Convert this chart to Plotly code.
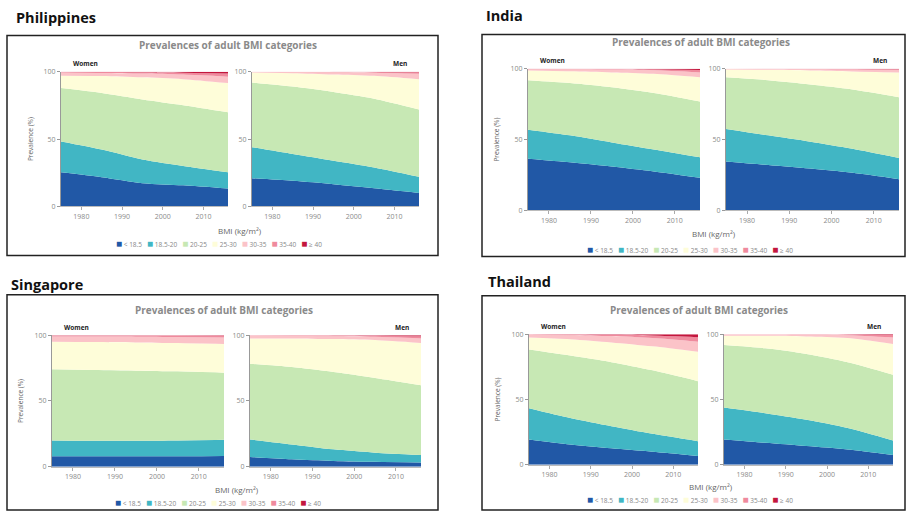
import plotly.graph_objects as go

# ---------------- data ----------------
years = [1975, 1985, 1995, 2005, 2016]
bmi_categories = ["< 18.5", "18.5-20", "20-25", "25-30", "30-35", "35-40", "≥ 40"]
bmi_colors = ["#2158a6", "#41b6c4", "#c7e8b4", "#fefdd9", "#fbc3c8", "#ef8a9d", "#c3163d"]
year_ticks = [1980, 1990, 2000, 2010]
prev_ticks = [0, 50, 100]

# prevalence (%) per BMI category (rows) and year (columns)
phl_women = [[25.3, 21.7, 17.3, 15.7, 13.3], [22.9, 20.5, 17.6, 14.4, 12], [39.8, 42.1, 44.6, 45.1, 44.6],
             [9.1, 12.6, 16.4, 19.3, 21.7], [2.4, 2.3, 2.9, 3.5, 4.8], [0.4, 0.6, 0.8, 1.3, 2.4],
             [0.1, 0.2, 0.4, 0.7, 1.2]]
phl_men = [[21, 19, 16.5, 13.5, 10], [23, 20, 17.5, 15.5, 12], [48, 50, 51, 51, 50],
           [7.5, 10, 13, 17, 22.5], [0.4, 0.85, 1.6, 2.3, 4], [0.08, 0.12, 0.3, 0.5, 1.1],
           [0.02, 0.03, 0.1, 0.2, 0.4]]
ind_women = [[36.5, 34, 31, 27.5, 23], [20.5, 19, 17, 15.5, 14.5], [35, 37, 39, 40, 39.5],
             [6.8, 8.3, 10.5, 13.5, 17], [1, 1.4, 2, 2.5, 3.5], [0.17, 0.25, 0.4, 0.7, 1.7],
             [0.03, 0.05, 0.1, 0.3, 0.8]]
ind_men = [[34.5, 32, 29.5, 26.5, 22], [23, 21, 19, 17, 15], [36.5, 39, 40.5, 42, 43],
           [5.5, 7.3, 9.8, 12.7, 17.5], [0.45, 0.6, 1, 1.4, 1.8], [0.05, 0.08, 0.15, 0.3, 0.5],
           [0, 0.02, 0.05, 0.1, 0.2]]
sgp_women = [[8, 8, 8, 8, 8.2], [12, 11.8, 11.8, 12, 12.3], [54, 53.7, 53.2, 52.5, 51],
             [21, 21.3, 21.5, 21.5, 21.8], [4, 4.1, 4.3, 4.6, 5], [0.8, 0.9, 0.95, 1.1, 1.3],
             [0.2, 0.2, 0.25, 0.3, 0.4]]
sgp_men = [[7.5, 5.75, 4.5, 3.75, 3.25], [13.25, 11.25, 8.75, 7, 5.75], [57.5, 58.75, 58.75, 56.75, 53],
           [19.25, 21.75, 25, 28.75, 32], [2, 1.9, 2.2, 2.55, 3.5], [0.4, 0.45, 0.6, 0.8, 1.7],
           [0.1, 0.15, 0.2, 0.4, 0.8]]
tha_women = [[19.4, 15.6, 12.6, 10, 6.8], [23.9, 20.2, 16.9, 13.7, 11.3], [44.9, 47.8, 49.1, 48.6, 45.9],
             [9.3, 12.6, 15.1, 18.4, 22.6], [2, 3, 4.8, 6.3, 7.6], [0.4, 0.6, 1, 2, 3.5],
             [0.1, 0.2, 0.5, 1, 2.3]]
tha_men = [[19.4, 16.9, 14.4, 11.8, 7.6], [24.4, 22.6, 20.1, 16.4, 11], [47.9, 49.7, 50.4, 50.4, 50.4],
           [7, 9.5, 13.3, 18.4, 23.4], [1.1, 1, 1.3, 2.2, 5.1], [0.17, 0.25, 0.4, 0.6, 1.8],
           [0.03, 0.05, 0.1, 0.2, 0.7]]

country_names = ["Philippines", "India", "Singapore", "Thailand"]
women_data = [phl_women, ind_women, sgp_women, tha_women]
men_data = [phl_men, ind_men, sgp_men, tha_men]

# ---------------- layout (pixel positions in the 908x516 page) ----------------
FW, FH = 908, 516
panel_geo = [
    dict(box=(7, 31, 438, 255), name_xy=(14, 13), title_xy=(228, 41), wx=(61, 228), mx=(252, 419),
         py=(68, 205), xtitle_y=229, legend_xy=(219, 242), ytitle_x=30),
    dict(box=(482, 30, 905, 256), name_xy=(484, 11), title_xy=(701, 38), wx=(528, 700), mx=(726, 899),
         py=(65, 209), xtitle_y=233, legend_xy=(690, 248), ytitle_x=497),
    dict(box=(7, 295, 438, 514), name_xy=(9, 284), title_xy=(224, 310), wx=(52, 224), mx=(250, 421),
         py=(336, 470), xtitle_y=493, legend_xy=(218, 506), ytitle_x=21),
    dict(box=(482, 296, 905, 514), name_xy=(486, 281), title_xy=(699, 310), wx=(529, 698), mx=(724, 893),
         py=(335, 468), xtitle_y=490, legend_xy=(690, 503), ytitle_x=497),
]


def px(x):
    return x / FW


def py_(y):
    return 1 - y / FH


FONT = "Open Sans"
TICK_FONT = dict(family=FONT, size=7, color="#8a8a8a")
NB = "\u00a0"

legend_text = (NB * 3).join(
    f"<span style='color:{col};font-size:10px'>■</span>{NB}{cat}"
    for cat, col in zip(bmi_categories, bmi_colors)
)

fig = go.Figure()
layout = dict(width=FW, height=FH, margin=dict(l=0, r=0, t=0, b=0),
              paper_bgcolor="white", plot_bgcolor="white", hovermode=False,
              showlegend=False, font=dict(family=FONT))
shapes, annotations = [], []

axis_n = 0
for p, (name, geo) in enumerate(zip(country_names, panel_geo)):
    x0, y0, x1, y1 = geo["box"]
    shapes.append(dict(type="rect", xref="paper", yref="paper", x0=px(x0), x1=px(x1),
                       y0=py_(y1), y1=py_(y0), line=dict(color="#222", width=1.5)))
    annotations.append(dict(text=f"<b>{name}</b>", xref="paper", yref="paper",
                            x=px(geo["name_xy"][0]), y=py_(geo["name_xy"][1]),
                            xanchor="left", yanchor="middle", showarrow=False,
                            font=dict(family=FONT, size=14.5, color="#111")))
    annotations.append(dict(text="<b>Prevalences of adult BMI categories</b>", xref="paper", yref="paper",
                            x=px(geo["title_xy"][0]), y=py_(geo["title_xy"][1]),
                            xanchor="center", yanchor="middle", showarrow=False,
                            font=dict(family=FONT, size=10, color="#8a8a8a")))
    annotations.append(dict(text="BMI (kg/m²)", xref="paper", yref="paper",
                            x=px((geo["wx"][0] + geo["mx"][1]) / 2), y=py_(geo["xtitle_y"]),
                            xanchor="center", yanchor="middle", showarrow=False,
                            font=dict(family=FONT, size=8, color="#666")))
    annotations.append(dict(text="Prevalence (%)", xref="paper", yref="paper", textangle=-90,
                            x=px(geo["ytitle_x"]), y=py_((geo["py"][0] + geo["py"][1]) / 2),
                            xanchor="center", yanchor="middle", showarrow=False,
                            font=dict(family=FONT, size=6.5, color="#666")))
    annotations.append(dict(text=legend_text, xref="paper", yref="paper",
                            x=px(geo["legend_xy"][0]), y=py_(geo["legend_xy"][1]),
                            xanchor="center", yanchor="middle", showarrow=False,
                            font=dict(family=FONT, size=6.5, color="#888")))

    for s, (sex_label, data, xr) in enumerate([("Women", women_data[p], geo["wx"]),
                                                ("Men", men_data[p], geo["mx"])]):
        axis_n += 1
        xa = "x" if axis_n == 1 else f"x{axis_n}"
        ya = "y" if axis_n == 1 else f"y{axis_n}"
        xkey = "xaxis" if axis_n == 1 else f"xaxis{axis_n}"
        ykey = "yaxis" if axis_n == 1 else f"yaxis{axis_n}"
        layout[xkey] = dict(domain=[px(xr[0]), px(xr[1])], anchor=ya, range=[1975, 2016],
                            tickvals=year_ticks, ticks="outside", ticklen=3, tickcolor="#aaa",
                            showline=True, linecolor="#bbb", linewidth=1, showgrid=False,
                            zeroline=False, tickfont=TICK_FONT, fixedrange=True)
        layout[ykey] = dict(domain=[py_(geo["py"][1]), py_(geo["py"][0])], anchor=xa, range=[0, 100],
                            tickvals=prev_ticks, ticks="outside", ticklen=3, tickcolor="#999",
                            showline=True, linecolor="#999", linewidth=1, showgrid=False,
                            zeroline=False, tickfont=TICK_FONT, fixedrange=True)
        for c, (cat, col) in enumerate(zip(bmi_categories, bmi_colors)):
            fig.add_trace(go.Scatter(x=years, y=data[c], name=f"{name} {sex_label} {cat}",
                                     stackgroup=f"g{axis_n}", mode="lines", fillcolor=col,
                                     line=dict(width=0, shape="spline", smoothing=0.8, color=col),
                                     xaxis=xa, yaxis=ya, hoverinfo="skip"))
        if s == 0:
            annotations.append(dict(text="<b>Women</b>", xref=f"{xa} domain", yref=f"{ya} domain",
                                    x=0.06, y=1.0, yshift=8, xanchor="left", yanchor="middle",
                                    showarrow=False, font=dict(family=FONT, size=6.5, color="#222")))
        else:
            annotations.append(dict(text="<b>Men</b>", xref=f"{xa} domain", yref=f"{ya} domain",
                                    x=0.94, y=1.0, yshift=8, xanchor="right", yanchor="middle",
                                    showarrow=False, font=dict(family=FONT, size=6.5, color="#222")))

layout["shapes"] = shapes
layout["annotations"] = annotations
fig.update_layout(**layout)
fig.write_html("out.html", config={"displayModeBar": False},
               post_script="document.body.style.margin='0';")
